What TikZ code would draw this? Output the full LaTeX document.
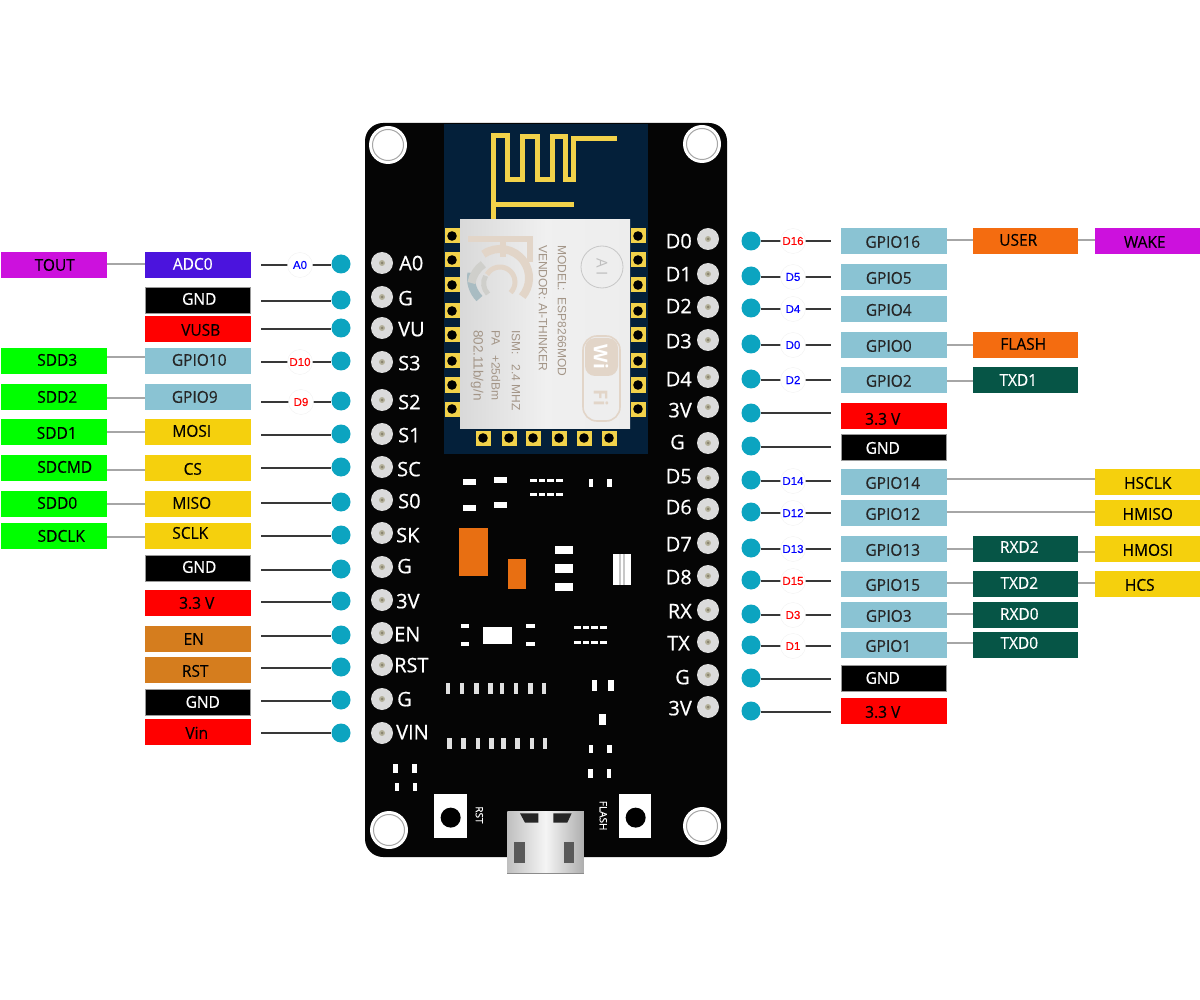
\documentclass[tikz,border=0pt]{standalone}
\usepackage{fontspec}
\setmainfont{Open Sans}
\newfontfamily\arl{Liberation Sans}
\newfontfamily\arlb{Liberation Sans}[FakeBold=0.25]
\newfontfamily\lbl{Open Sans}[FakeBold=0.35,FakeStretch=0.95]
\newfontfamily\slk{Open Sans}[FakeBold=0.6]
\definecolor{cPurple}{HTML}{CC11DD}
\definecolor{cIndigo}{HTML}{4B14DD}
\definecolor{cRed}{HTML}{FF0000}
\definecolor{cGreen}{HTML}{00FF00}
\definecolor{cBlue}{HTML}{8AC3D3}
\definecolor{cYellow}{HTML}{F5D00D}
\definecolor{cBrown}{HTML}{D57D1E}
\definecolor{cOrange}{HTML}{F46C10}
\definecolor{cDark}{HTML}{065546}
\definecolor{cDot}{HTML}{0CA4C0}
\definecolor{cNavy}{HTML}{04203A}
\definecolor{cGold}{HTML}{F2D24A}
\definecolor{cTan}{HTML}{E2D5C8}
\definecolor{cTeal}{HTML}{A9BCC2}
\definecolor{cMid}{HTML}{CFCFCB}
\definecolor{cInk}{HTML}{A39587}
\definecolor{cChip}{HTML}{E86F12}
\definecolor{cPinC}{HTML}{B5B29C}
\definecolor{cPinD}{HTML}{8A8570}
\newcommand\tx[3]{\makebox[0pt]{\hspace*{\dimexpr#1pt*2\relax}\raisebox{\dimexpr-#2pt\relax}{#3}}}
\newcommand\bx[8]{\node[box,#2] (#1) at (#3,#4) {\tx{#5}{#6}{#7}};}
\newcommand\zr[4]{\fill[white] (#1,#2) rectangle (#3,#4);}
\newcommand\zd[2]{\foreach \i in {0,1,2,3} {\fill[white] ({#1+\i*26},#2) rectangle ({#1+\i*26+20},#2+9);}}
\newcommand\lpin[4]{%
  \node[dot] (#1) at (341,#3) {};
  \coordinate (#1c) at (261,#2);
  \draw[wire] (#1c) -- (#1c -| #1.west);
  #4}
\newcommand\rpin[4]{%
  \node[dot] (#1) at (751,#3) {};
  \coordinate (#1c) at (831,#2);
  \draw[wire] (#1.east |- #1c) -- (#1c);
  #4}
\newcommand\tag[5]{\node[dlab,text=#4] (#1t) at (#3,#2) {#5};}
\newcommand\bp[2]{\fill[pinbody] (#1,#2) circle[radius=11pt];\fill[cPinC] (#1,#2) circle[radius=3pt];\fill[cPinD] (#1,#2) circle[radius=1.5pt];}
\newcommand\pd[2]{\fill[cGold] (#1-7.5,#2-7.5) rectangle (#1+7.5,#2+7.5);\fill[black] (#1,#2) circle[radius=4.8pt];}
\tikzset{
 box/.style={anchor=north west,minimum width=105.5pt,minimum height=26pt,inner sep=0pt,outer sep=0pt,text height=11.5pt,text depth=0pt,font=\lbl\fontsize{16.3}{17}\selectfont},
 wire/.style={draw=black!78,line width=1.8pt},
 link/.style={draw=black!35,line width=1.2pt},
 dot/.style={circle,fill=cDot,minimum size=19pt,inner sep=0pt},
 dlab/.style={circle,fill=white,draw=black!6,line width=.3pt,minimum size=25pt,inner sep=0pt,font=\arlb\fontsize{11.5}{12}\selectfont},
 silk/.style={text=white,inner sep=0pt,font=\slk\fontsize{20}{20}\selectfont,text height=14.5pt,text depth=0pt},
 pinbody/.style={fill=black!14},
 mod/.style={text=cInk,inner sep=0pt,rotate=-90,anchor=west,font=\arl\fontsize{12}{12}\selectfont},
 ant/.style={draw=cGold,line width=5pt,miter limit=4},
 pur/.style={fill=cPurple},ind/.style={fill=cIndigo,text=white},blk/.style={fill=black,text=white,draw=black!40,line width=.6pt},
 rd/.style={fill=cRed},grn/.style={fill=cGreen},blu/.style={fill=cBlue,text=black!85},yel/.style={fill=cYellow},
 brn/.style={fill=cBrown},org/.style={fill=cOrange},drk/.style={fill=cDark,text=white},
}
\begin{document}
\begin{tikzpicture}[x=1pt,y=-1pt]
\useasboundingbox (0,0) rectangle (1200,1000);
\fill[white] (0,0) rectangle (1200,1000);
% board
\fill[black!98,rounded corners=18pt] (365,123) rectangle (727,857);
\fill[cNavy] (444,124) rectangle (648,454);
% holes
\foreach \hx/\hy in {388/145,702/144,389/830,702/826}{
  \fill[white] (\hx,\hy) circle[radius=19pt];
  \draw[black!35,line width=1pt] (\hx,\hy) circle[radius=15.5pt];}
% antenna
\begin{scope}[shift={(440,120)},x=.3333pt,y=-.3333pt]
 \draw[ant] (162,298) -- (162,47) -- (203,47) -- (203,178) -- (247,178) -- (247,50) -- (293,50) -- (293,178) -- (338,178) -- (338,50) -- (378,50) -- (378,178) -- (400,178) -- (400,55) -- (532,55);
 \draw[ant] (162,253) -- (402,253);
\end{scope}
% module pads
\foreach \py in {236,260,285,311,335,361,385,409}{\pd{452}{\py}\pd{638}{\py}}
\foreach \px in {483,509,533,559,584,609}{\pd{\px}{438}}
% module
\shade[left color=black!15,right color=black!7,middle color=black!6] (460,220) rectangle (630,428);
% FC logo
\begin{scope}[draw=cTan]
 \draw[line width=6pt] (468,239) -- (533,239);
 \draw[line width=6pt] (530,237) -- (530,262);
 \draw[line width=6pt] (503,240) -- (503,257);
 \draw[cTeal,line width=8pt] (479.5,298.5) arc[start angle=225,end angle=170,radius=29pt];
 \draw[cMid,line width=8pt] (471.4,283) arc[start angle=170,end angle=125,radius=29pt];
 \draw[cTan,line width=8pt] (483.4,254.2) arc[start angle=125,end angle=-40,radius=29pt];
 \draw[cMid,line width=5pt] (488,294) arc[start angle=225,end angle=150,radius=15pt];
 \draw[cTan,line width=5pt] (487,274.5) arc[start angle=150,end angle=-45,radius=15pt];
\end{scope}
\node[mod] (m1) at (562,245) {MODEL:\ \ ESP8266MOD};
\node[mod] (m2) at (543,245) {VENDOR:\ AI-THINKER};
\node[mod] (m3) at (516,330) {ISM:\ \ \ 2.4 MHZ};
\node[mod] (m4) at (496,330) {PA\ \ \ +25dBm};
\node[mod,font=\arl\fontsize{13.5}{14}\selectfont] (m5) at (477,330) {802.11b/g/n};
\draw[black!22,line width=.8pt] (602,267) circle[radius=21pt];
\node[rotate=-90,text=black!25,inner sep=0pt,font=\fontsize{15}{15}\selectfont] (mai) at (602,267) {A I};
\draw[cTan,line width=1.6pt,rounded corners=14pt] (583,336) rectangle (620,421);
\fill[cTan,rounded corners=10pt] (585,338) rectangle (618,376);
\node[rotate=-90,text=white,inner sep=0pt,font=\bfseries\fontsize{19}{19}\selectfont] (mwi) at (601,357) {Wi};
\node[rotate=-90,text=cTan,inner sep=0pt,font=\bfseries\fontsize{19}{19}\selectfont] (mfi) at (601,398) {Fi};
% smd parts
\begin{scope}[shift={(360,430)},x=.3333pt,y=-.3333pt]
 \zr{308}{148}{348}{165}\zr{402}{140}{440}{158}\zr{308}{225}{348}{242}\zr{402}{217}{440}{235}
 \zd{510}{147}\zd{510}{190}
 \zr{688}{147}{698}{172}\zr{742}{147}{755}{172}
 \fill[cChip] (297,295) rectangle (385,437);
 \fill[cChip] (443,388) rectangle (499,478);
 \zr{585}{347}{640}{372}\zr{585}{402}{640}{428}\zr{585}{458}{640}{484}
 \zr{760}{373}{812}{464}
 \fill[black!22] (776,373) rectangle (782,464);
 \fill[black!22] (790,373) rectangle (795,464);
 \zr{302}{582}{328}{595}\zr{302}{635}{328}{647}\zr{370}{590}{456}{642}\zr{498}{582}{526}{595}\zr{498}{635}{526}{647}
 \zd{642}{588}\zd{642}{632}
 \foreach \lx in {258,300,343,385,420,462,505,545}{\fill[white!88!black] (\lx,760) rectangle (\lx+13,793);}
 \foreach \lx in {262,304,347,388,424,466,509,548}{\fill[white!88!black] (\lx,925) rectangle (\lx+13,957);}
 \zr{695}{750}{712}{782}\zr{745}{750}{762}{782}\zr{718}{853}{738}{885}
 \zr{688}{945}{698}{970}\zr{742}{945}{755}{970}\zr{685}{1018}{698}{1043}\zr{740}{1018}{753}{1043}
 \zr{100}{1003}{115}{1028}\zr{155}{1003}{170}{1028}\zr{105}{1060}{118}{1083}\zr{160}{1060}{172}{1083}
 \zr{222}{1092}{320}{1225}\fill[black] (272,1163) circle[radius=10pt];
 \zr{778}{1092}{872}{1225}\fill[black] (827,1163) circle[radius=10pt];
 \node[rotate=-90,text=white,inner sep=0pt,font=\slk\fontsize{10}{10}\selectfont] (srst) at (358,1155) {RST};
 \node[rotate=-90,text=white,inner sep=0pt,font=\slk\fontsize{10}{10}\selectfont] (sfl) at (730,1157) {FLASH};
 \shade[left color=black!25,right color=black!32,middle color=black!4] (442,1145) rectangle (672,1330);
 \draw[black!45,line width=1pt] (442,1330) -- (672,1330);
 \fill[black!85] (480,1150) -- (535,1150) -- (535,1178) -- (495,1178) -- cycle;
 \fill[black!85] (580,1150) -- (635,1150) -- (622,1178) -- (580,1178) -- cycle;
 \fill[black!65] (462,1235) rectangle (495,1300);
 \fill[black!65] (612,1235) rectangle (642,1300);
\end{scope}
% board pins
\foreach \py in {263,297,328,362,400,434,467,500,533,567,600,633,665,699,733}{\bp{382}{\py}}
\foreach \py in {239,274,307,340,377,407,443,478,509,543,576,610,642,675,707}{\bp{708}{\py}}
% silk left
\foreach \nm/\sx/\sy/\st in {sa/399/263/A0,sb/398/298/G,sc/398/329/VU,sd/398/363/S3,se/398/402/S2,sf/398/435/S1,sg/397/469/SC,sh/398/501/S0,si/396/535/SK,sj/397/566/G,sk/396/601/3V,sl/394/634/EN,sm/394/665/RST,sn/397/699/G,so/396/732/VIN}
 {\node[silk,anchor=west] (\nm) at (\sx,\sy) {\st};}
% silk right
\foreach \nm/\sx/\sy/\st in {ra/692/241/D0,rb/692/274/D1,rc/692/306/D2,rd/692/341/D3,re/692/379/D4,rf/692/410/3V,rg/685/442/G,rh/692/476/D5,ri/692/507/D6,rj/692/544/D7,rk/692/577/D8,rl/692/611/RX,rm/690/643/TX,rn/690/677/G,ro/692/708/3V}
 {\node[silk,anchor=east] (\nm) at (\sx,\sy) {\st};}
% left column boxes
\bx{tout}{pur}{1}{252}{1}{0}{TOUT}{}
\bx{adc}{ind}{145}{252}{-5}{-1}{ADC0}{}
\bx{lgnda}{blk}{145}{287}{1.5}{-1}{GND}{}
\bx{vusb}{rd}{145}{316}{3}{1}{VUSB}{}
\bx{gp10}{blu}{145}{348}{1.5}{-1}{GPIO10}{}
\bx{gp9}{blu}{145}{384}{-3}{0}{GPIO9}{}
\bx{mosi}{yel}{145}{419}{-6}{-1}{MOSI}{}
\bx{cs}{yel}{145}{455}{-5}{1}{CS}{}
\bx{miso}{yel}{145}{491}{-6}{-1}{MISO}{}
\bx{sclk}{yel}{145}{523}{-7.5}{-3}{SCLK}{}
\bx{lgndb}{blk}{145}{555}{1.5}{-1}{GND}{}
\bx{lvb}{rd}{145}{590}{-1}{0}{3.3 V}{}
\bx{en}{brn}{145}{626}{-4}{0}{EN}{}
\bx{rst}{brn}{145}{657}{-2.5}{1}{RST}{}
\bx{lgndc}{blk}{145}{689}{5}{0}{GND}{}
\bx{vin}{rd}{145}{719}{-1}{1}{Vin}{}
\bx{sdd3}{grn}{1}{348}{3.5}{-1}{SDD3}{}
\bx{sdd2}{grn}{1}{384}{3.5}{0}{SDD2}{}
\bx{sdd1}{grn}{1}{419}{3}{1}{SDD1}{}
\bx{sdcmd}{grn}{1}{455}{11}{-1}{SDCMD}{}
\bx{sdd0}{grn}{1}{491}{3.5}{-1}{SDD0}{}
\bx{sdclk}{grn}{1}{523}{7.5}{0}{SDCLK}{}
\draw[link] (tout.east |- 0,264) -- (adc.west |- 0,264);
\draw[link] (sdd3.east |- 0,357) -- (gp10.west |- 0,357);
\draw[link] (sdd2.east |- 0,398) -- (gp9.west |- 0,398);
\draw[link] (sdd1.east |- 0,432) -- (mosi.west |- 0,432);
\draw[link] (sdcmd.east |- 0,470) -- (cs.west |- 0,470);
\draw[link] (sdd0.east |- 0,504) -- (miso.west |- 0,504);
\draw[link] (sdclk.east |- 0,537) -- (sclk.west |- 0,537);
% left pins
\lpin{la}{265}{264}{\tag{la}{265}{300}{blue}{A0}}
\lpin{lb}{301}{300}{}
\lpin{lc}{329}{328}{}
\lpin{ld}{362}{361}{\tag{ld}{362}{300}{cRed}{D10}}
\lpin{le}{402}{401}{\tag{le}{402}{301}{cRed}{D9}}
\lpin{lf}{435}{434}{}
\lpin{lg}{468}{467}{}
\lpin{lh}{503}{502}{}
\lpin{li}{536}{535}{}
\lpin{lj}{570}{569}{}
\lpin{lk}{602}{601}{}
\lpin{ll}{636}{635}{}
\lpin{lm}{668}{667}{}
\lpin{ln}{701}{700}{}
\lpin{lo}{733}{733}{}
% right column boxes
\bx{g16}{blu}{841}{228}{-1}{1}{GPIO16}{}
\bx{g5}{blu}{841}{264}{-5}{1}{GPIO5}{}
\bx{g4}{blu}{841}{296}{-5}{1}{GPIO4}{}
\bx{g0}{blu}{841}{332}{-5}{1}{GPIO0}{}
\bx{g2}{blu}{841}{367}{-5}{1}{GPIO2}{}
\bx{rva}{rd}{841}{403}{-11}{3}{3.3 V}{}
\bx{rgnda}{blk}{841}{434}{-11}{1}{GND}{}
\bx{g14}{blu}{841}{469}{-1}{1}{GPIO14}{}
\bx{g12}{blu}{841}{500}{-1}{1}{GPIO12}{}
\bx{g13}{blu}{841}{536}{-1}{1}{GPIO13}{}
\bx{g15}{blu}{841}{571}{-1}{1}{GPIO15}{}
\bx{g3}{blu}{841}{602}{-5}{1}{GPIO3}{}
\bx{g1}{blu}{841}{632}{-5.5}{1}{GPIO1}{}
\bx{rgndb}{blk}{841}{665}{-11}{0}{GND}{}
\bx{rvb}{rd}{841}{698}{-11}{1}{3.3 V}{}
\bx{user}{org}{972.5}{228}{-7}{-1}{USER}{}
\bx{flash}{org}{972.5}{332}{-2}{-1}{FLASH}{}
\bx{txda}{drk}{972.5}{367}{-7}{0}{TXD1}{}
\bx{rxdb}{drk}{972.5}{536}{-6}{-2}{RXD2}{}
\bx{txdb}{drk}{972.5}{571}{-6}{-1}{TXD2}{}
\bx{rxd0}{drk}{972.5}{602}{-6}{-1}{RXD0}{}
\bx{txd0}{drk}{972.5}{632}{-6}{-2}{TXD0}{}
\bx{wake}{pur}{1095}{228}{-3}{1}{WAKE}{}
\bx{hsclk}{yel}{1095}{469}{0}{1}{HSCLK}{}
\bx{hmiso}{yel}{1095}{500}{0}{1}{HMISO}{}
\bx{hmosi}{yel}{1095}{536}{0}{1}{HMOSI}{}
\bx{hcs}{yel}{1095}{571}{-8}{1}{HCS}{}
\draw[link] (g16.east |- 0,240) -- (user.west |- 0,240);
\draw[link] (user.east |- 0,240) -- (wake.west |- 0,240);
\draw[link] (g0.east |- 0,345) -- (flash.west |- 0,345);
\draw[link] (g2.east |- 0,381) -- (txda.west |- 0,381);
\draw[link] (g14.east |- 0,479) -- (hsclk.west |- 0,479);
\draw[link] (g12.east |- 0,512) -- (hmiso.west |- 0,512);
\draw[link] (g13.east |- 0,549) -- (rxdb.west |- 0,549);
\draw[link] (rxdb.east |- 0,552) -- (hmosi.west |- 0,552);
\draw[link] (g15.east |- 0,583) -- (txdb.west |- 0,583);
\draw[link] (txdb.east |- 0,583) -- (hcs.west |- 0,583);
\draw[link] (g3.east |- 0,614) -- (rxd0.west |- 0,614);
\draw[link] (g1.east |- 0,643) -- (txd0.west |- 0,643);
% right pins
\rpin{pa}{241}{241}{\tag{pa}{241}{793}{cRed}{D16}}
\rpin{pb}{277}{276}{\tag{pb}{277}{793}{blue}{D5}}
\rpin{pc}{309}{308}{\tag{pc}{309}{793}{blue}{D4}}
\rpin{pd}{345}{344}{\tag{pd}{345}{793}{blue}{D0}}
\rpin{pe}{380}{379}{\tag{pe}{380}{793}{blue}{D2}}
\rpin{pf}{413}{413}{}
\rpin{pg}{447}{446}{}
\rpin{ph}{481}{480}{\tag{ph}{481}{793}{blue}{D14}}
\rpin{pi}{513}{512}{\tag{pi}{513}{793}{blue}{D12}}
\rpin{pj}{549}{548}{\tag{pj}{549}{793}{blue}{D13}}
\rpin{pk}{581}{580}{\tag{pk}{581}{793}{cRed}{D15}}
\rpin{pl}{615}{614}{\tag{pl}{615}{793}{cRed}{D3}}
\rpin{pm}{646}{645}{\tag{pm}{646}{793}{cRed}{D1}}
\rpin{pn}{679}{678}{}
\rpin{po}{712}{711}{}
\end{tikzpicture}
\end{document}
